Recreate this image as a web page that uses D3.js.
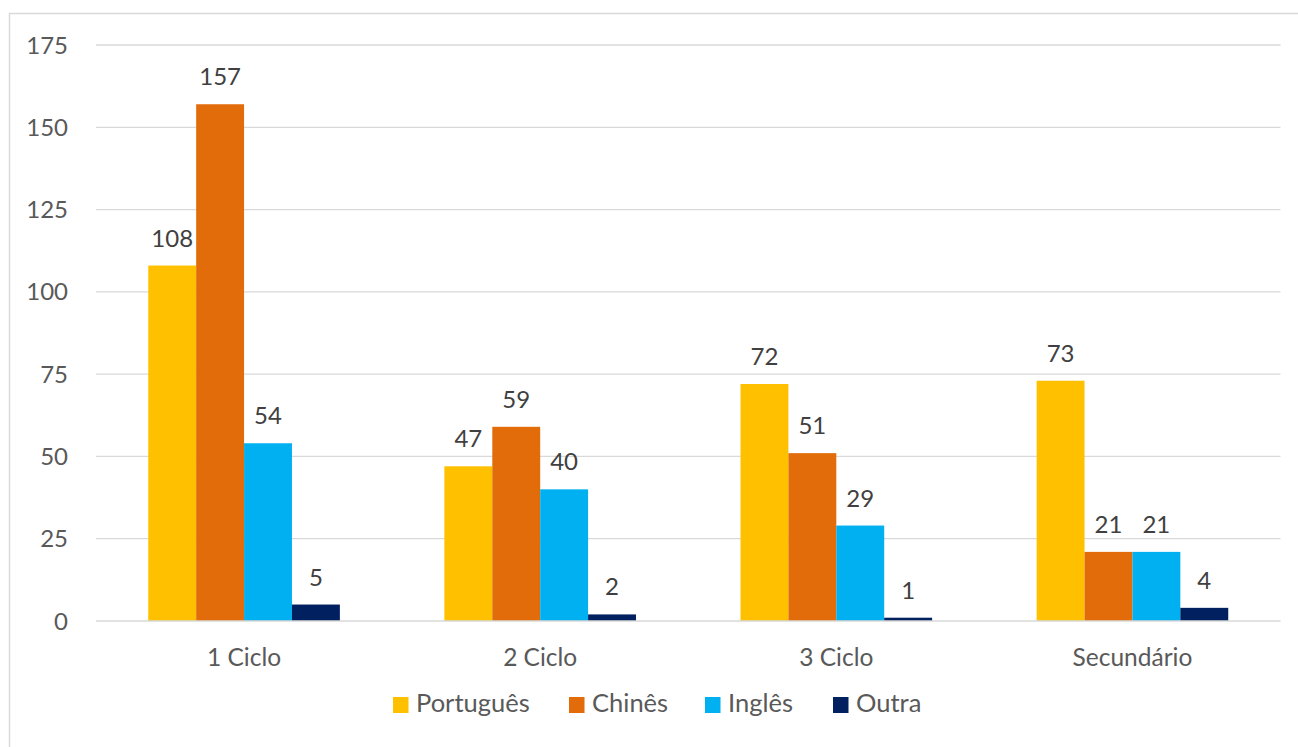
<!DOCTYPE html>
<html><head><meta charset="utf-8">
<script src="https://cdn.jsdelivr.net/npm/d3@7"></script>
<style>html,body{margin:0;padding:0;background:#fff;}svg{display:block;font-family:Lato,"Open Sans",sans-serif;}</style>
</head><body><svg id="c" width="1298" height="747"></svg>
<script>
const categories = ["1 Ciclo","2 Ciclo","3 Ciclo","Secundário"];
const seriesNames = ["Português","Chinês","Inglês","Outra"];
const seriesColors = ["#FFC000","#E36C0A","#00B0F0","#002060"];
const portugues = [108,47,72,73];
const chines = [157,59,51,21];
const ingles = [54,40,29,21];
const outra = [5,2,1,4];
const yTicks = [0,25,50,75,100,125,150,175];

(function(){
const seriesValues = [portugues, chines, ingles, outra];
const FS = 24;
const svg = d3.select("#c");
svg.append("rect").attr("x",9.5).attr("y",13.5).attr("width",1300).attr("height",740)
  .attr("fill","#fff").attr("stroke","#d9d9d9").attr("stroke-width",1.5);

const pLeft = 96, pRight = 1280.5, pTop = 45, pBottom = 621;
const y = d3.scaleLinear().domain([0,175]).range([pBottom, pTop]);
const x0 = d3.scaleBand().domain(categories).range([pLeft, pRight]).paddingInner(0).paddingOuter(0);
const off = (x0.bandwidth() - 191.6) / 2;
const x1 = d3.scaleBand().domain(seriesNames).range([off, x0.bandwidth() - off]).padding(0);

svg.append("g").selectAll("line").data(yTicks.filter(d=>d>0)).join("line")
  .attr("x1", pLeft).attr("x2", pRight).attr("y1", d=>y(d)).attr("y2", d=>y(d))
  .attr("stroke","#d9d9d9").attr("stroke-width",1.3);

svg.append("g").selectAll("text").data(yTicks).join("text")
  .attr("x", 68).attr("y", d=>y(d)).attr("dy","0.36em").attr("text-anchor","end")
  .attr("font-size", FS).attr("fill","#595959").text(d=>d);

const g = svg.append("g");
categories.forEach((c, ci) => {
  seriesNames.forEach((s, si) => {
    const v = seriesValues[si][ci];
    const bx = x0(c) + x1(s);
    g.append("rect").attr("x", bx).attr("y", y(v)).attr("width", x1.bandwidth())
      .attr("height", y(0) - y(v)).attr("fill", seriesColors[si]);
    g.append("text").attr("x", bx + x1.bandwidth()/2).attr("y", y(v) - 19)
      .attr("text-anchor","middle").attr("font-size",FS).attr("fill","#404040").text(v);
  });
});

svg.append("line").attr("x1", pLeft).attr("x2", pRight).attr("y1", y(0)).attr("y2", y(0))
  .attr("stroke","#d9d9d9").attr("stroke-width",1.5);

svg.append("g").selectAll("text").data(categories).join("text")
  .attr("x", d=>x0(d)+x0.bandwidth()/2).attr("y", 666)
  .attr("text-anchor","middle").attr("font-size",24.5).attr("fill","#595959").text(d=>d);

const legX = [393, 569, 705, 833];
const leg = svg.append("g");
seriesNames.forEach((s,i)=>{
  leg.append("rect").attr("x", legX[i]).attr("y", 697).attr("width",15.5).attr("height",16).attr("fill", seriesColors[i]);
  leg.append("text").attr("x", legX[i]+23).attr("y", 712).attr("font-size",25.5).attr("fill","#595959").text(s);
});
})();
</script></body></html>
